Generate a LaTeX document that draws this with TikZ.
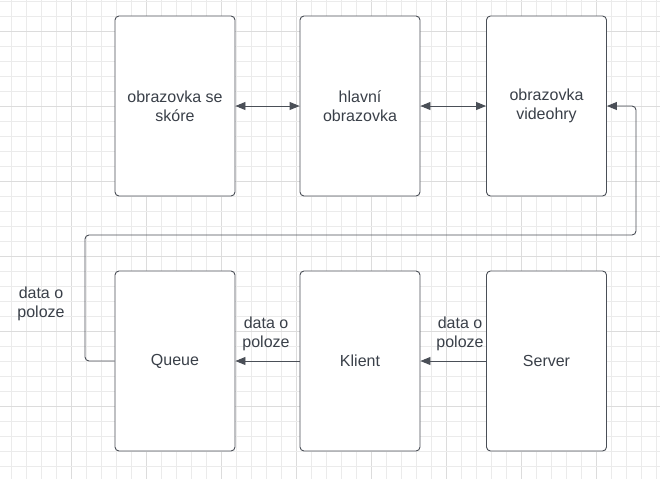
\documentclass[tikz,border=0pt]{standalone}
\usepackage{fontspec}
\setmainfont{Liberation Sans}
\usetikzlibrary{arrows.meta}
\definecolor{gridl}{HTML}{EBEBEB}
\definecolor{gridd}{HTML}{DCDCDC}
\definecolor{edge}{HTML}{4A4F57}
\definecolor{txt}{HTML}{3A4049}
\begin{document}
\begin{tikzpicture}[x=1pt,y=1pt,
  box/.style={draw=edge, line width=0.9pt, rounded corners=4pt, fill=white,
    minimum width=120pt, minimum height=180pt, inner sep=0pt,
    align=center, text=txt, font=\fontsize{16}{19}\selectfont},
  lbl/.style={align=center, text=txt, font=\fontsize{16}{19}\selectfont, inner sep=0pt},
  arr/.style={draw=edge, line width=0.9pt, -{Triangle[length=10pt,width=8pt]}},
  darr/.style={draw=edge, line width=0.9pt, {Triangle[length=10pt,width=8pt]}-{Triangle[length=10pt,width=8pt]}}
]
\useasboundingbox (0,0) rectangle (660,-479);
\fill[white] (0,0) rectangle (660,-479);
% grid
\foreach \i in {0,...,43} {
  \pgfmathsetmacro{\xx}{11+15*\i}
  \pgfmathtruncatemacro{\m}{mod(\i,5)}
  \ifnum\m=4 \draw[gridd,line width=0.8pt] (\xx,0) -- (\xx,-479);
  \else \draw[gridl,line width=0.8pt] (\xx,0) -- (\xx,-479); \fi
}
\foreach \j in {0,...,31} {
  \pgfmathsetmacro{\yy}{1+15*\j}
  \pgfmathtruncatemacro{\m}{mod(\j,5)}
  \ifnum\m=2 \draw[gridd,line width=0.8pt] (0,-\yy) -- (660,-\yy);
  \else \draw[gridl,line width=0.8pt] (0,-\yy) -- (660,-\yy); \fi
}
% boxes
\node[box] (skore) at (175,-106) {obrazovka se\\skóre};
\node[box] (hlavni) at (360,-106) {hlavní\\obrazovka};
\node[box] (video) at (546.5,-106) {obrazovka\\videohry};
\node[box] (queue) at (175,-361) {Queue};
\node[box] (klient) at (360,-361) {Klient};
\node[box] (server) at (546.5,-361) {Server};
% top arrows
\draw[darr] (skore.east) -- (hlavni.west);
\draw[darr] (hlavni.east) -- (video.west);
% bottom arrows
\draw[arr] (klient.west) -- (queue.east);
\draw[arr] (server.west) -- (klient.east);
\node[lbl] (l1) at (266,-334) {data o\\poloze};
\node[lbl] (l2) at (460,-334) {data o\\poloze};
% loop
\coordinate (c1) at (85,-235);
\coordinate (c2) at (636,-235);
\draw[arr, rounded corners=4pt] (queue.west) -| (c1) -- (c2) |- (video.east);
\node[lbl] (l3) at (41,-304) {data o\\poloze};
\end{tikzpicture}
\end{document}
